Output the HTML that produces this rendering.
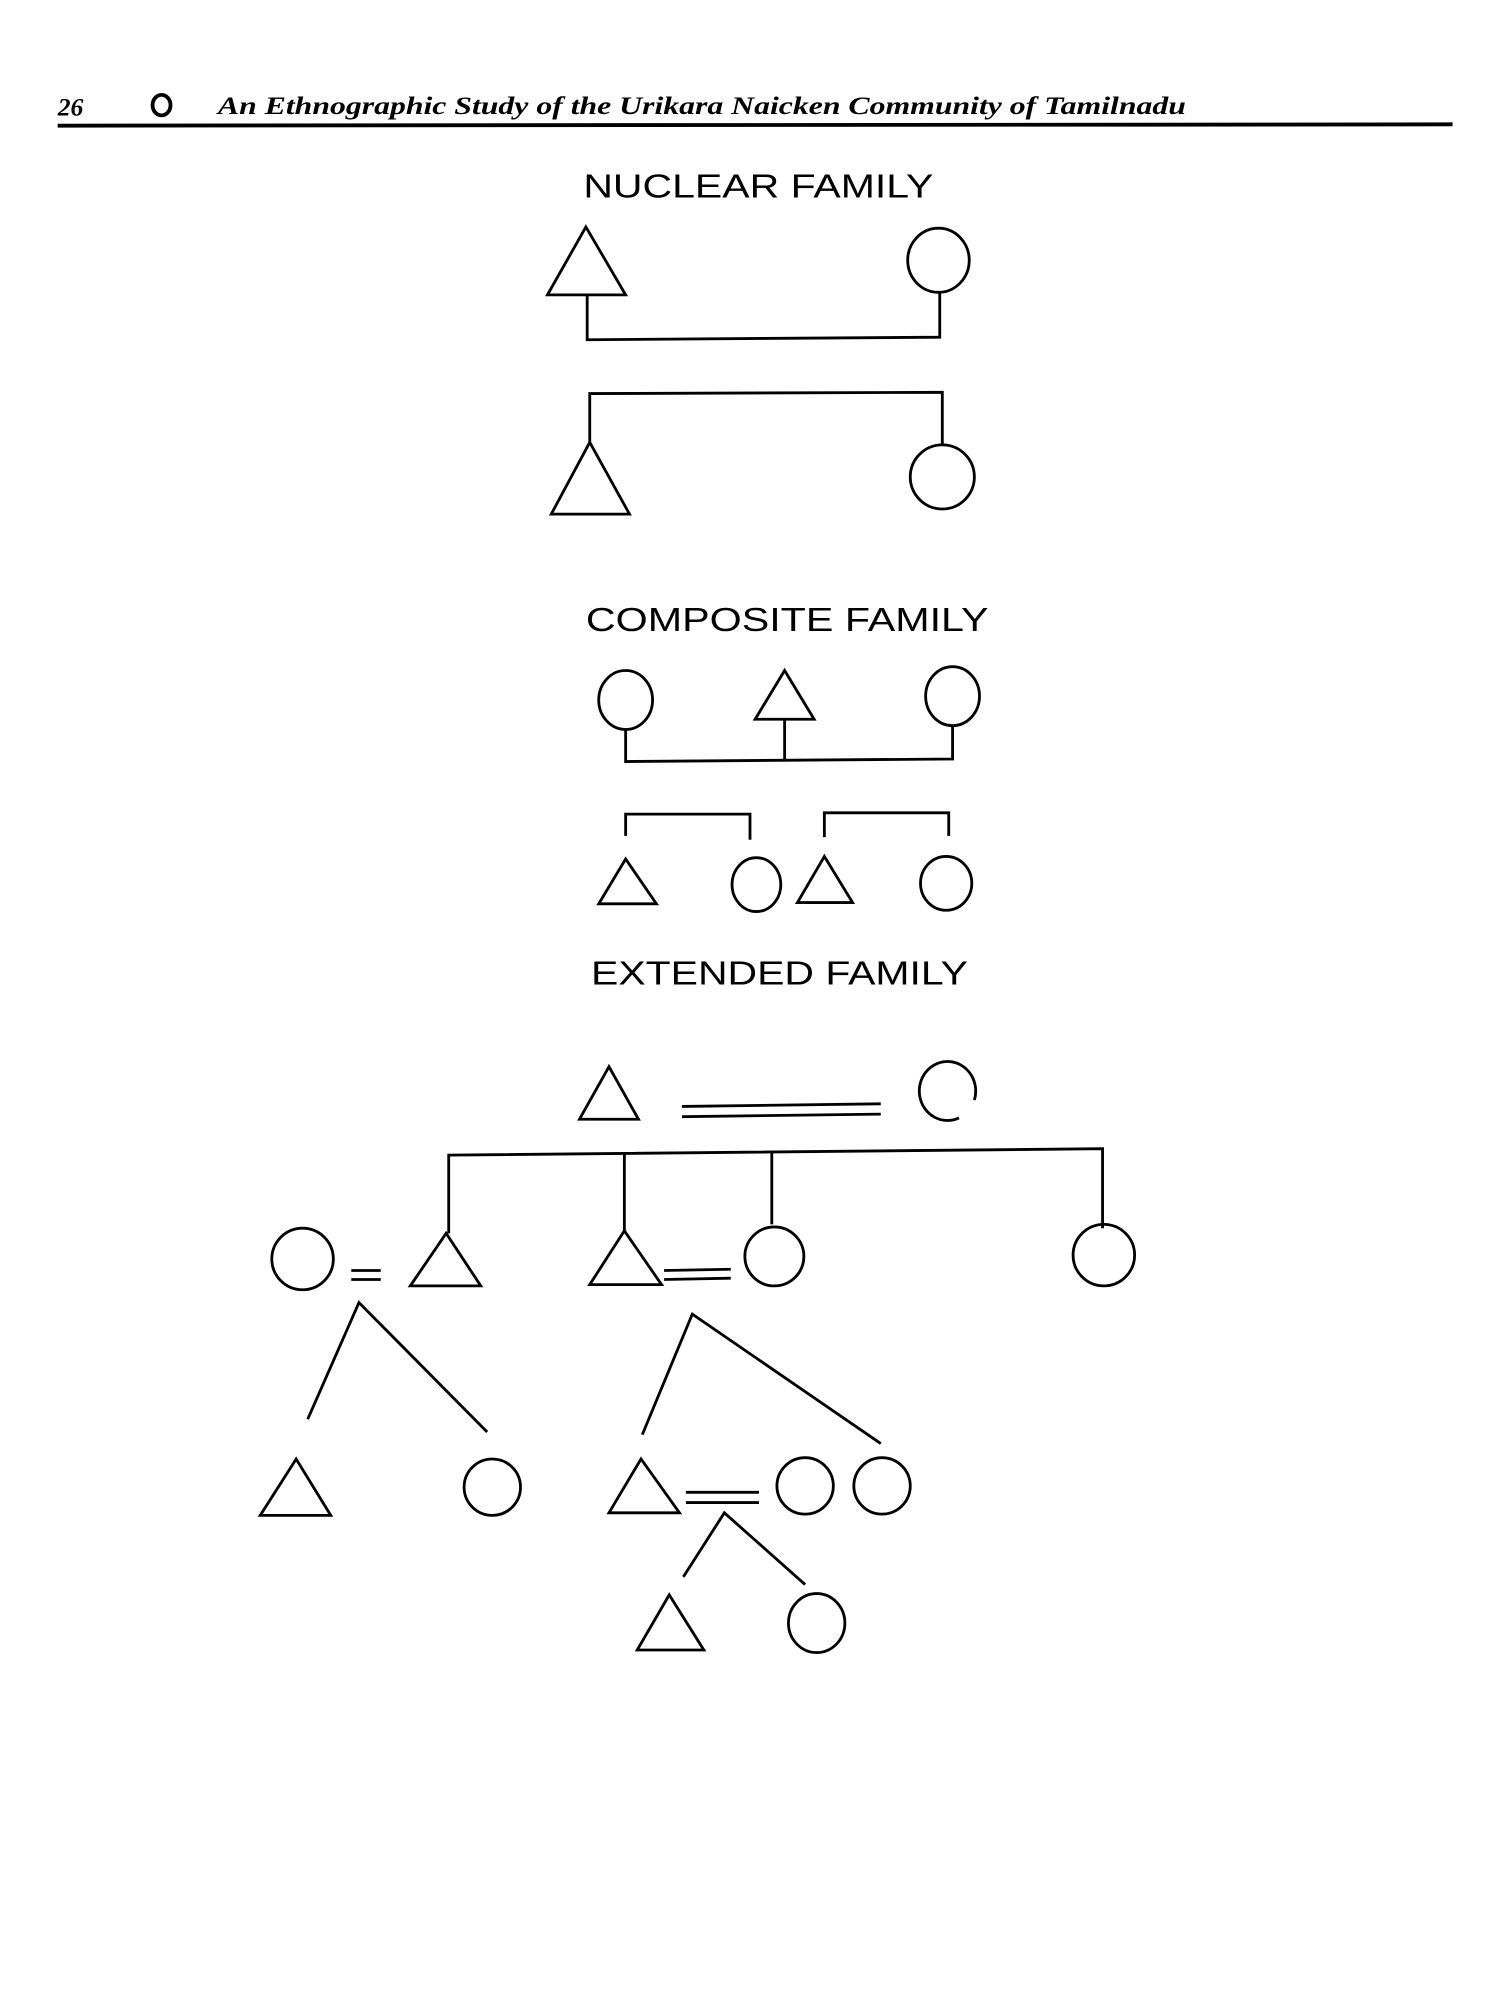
<!DOCTYPE html>
<html><head><meta charset="utf-8"><style>
html,body{margin:0;padding:0;background:#fff;width:1500px;height:2000px;overflow:hidden}
svg{display:block}
</style></head><body>
<svg width="1500" height="2000" viewBox="0 0 1170 1560" xmlns="http://www.w3.org/2000/svg">
<g font-family="Liberation Serif, serif" font-style="italic" font-weight="bold" fill="#000">
<text x="45" y="90" font-size="20">26</text>
<text x="170" y="89" font-size="20" textLength="755" lengthAdjust="spacingAndGlyphs">An Ethnographic Study of the Urikara Naicken Community  of Tamilnadu</text>
</g>
<ellipse cx="126" cy="82" rx="7" ry="8" fill="none" stroke="#000" stroke-width="3"/>
<line x1="45" y1="98" x2="1133" y2="97" stroke="#000" stroke-width="3"/>
<g font-family="Liberation Sans, sans-serif" font-size="26" fill="#000">
<text x="455" y="154" textLength="273" lengthAdjust="spacingAndGlyphs">NUCLEAR FAMILY</text>
<text x="457" y="492" textLength="314" lengthAdjust="spacingAndGlyphs">COMPOSITE FAMILY</text>
<text x="461" y="768" textLength="294" lengthAdjust="spacingAndGlyphs">EXTENDED FAMILY</text>
</g>
<g fill="none" stroke="#000" stroke-width="2.2">
<!-- nuclear 1 -->
<polygon points="457,177 427,230 488,230"/>
<ellipse cx="732" cy="203" rx="24" ry="25"/>
<polyline points="458,230 458,265 733,263 733,228"/>
<!-- nuclear 2 -->
<polyline points="460,345 460,307 735,306 735,347"/>
<polygon points="460,345 430,401 491,401"/>
<ellipse cx="735" cy="372" rx="25" ry="25"/>
<!-- composite -->
<ellipse cx="488" cy="546" rx="21" ry="23"/>
<polygon points="612,523 589,561 635,561"/>
<ellipse cx="743" cy="543" rx="21" ry="23"/>
<polyline points="488,569 488,594 743,592 743,566"/>
<line x1="612" y1="561" x2="612" y2="593"/>
<polyline points="488,652 488,635 585,635 585,655"/>
<polyline points="643,653 643,634 740,634 740,652"/>
<polygon points="488,670 467,705 512,705"/>
<ellipse cx="590" cy="690" rx="19" ry="21"/>
<polygon points="643,668 622,704 665,704"/>
<ellipse cx="738" cy="689" rx="20" ry="21"/>
<!-- extended -->
<polygon points="475,832 452,873 498,873"/>
<line x1="532" y1="863" x2="687" y2="861"/>
<line x1="532" y1="871" x2="687" y2="869"/>
<path d="M760,858 A22,23 0 1 0 748,872" />
<polyline points="350,962 350,901 860,896 860,958"/>
<line x1="487" y1="900" x2="487" y2="960"/>
<line x1="602" y1="899" x2="602" y2="955"/>
<ellipse cx="236" cy="982" rx="24" ry="24"/>
<line x1="274" y1="991" x2="297" y2="991"/>
<line x1="274" y1="998" x2="297" y2="998"/>
<polygon points="348,962 320,1003 375,1003"/>
<polygon points="487,960 460,1002 516,1002"/>
<line x1="518" y1="991" x2="570" y2="990"/>
<line x1="518" y1="998" x2="570" y2="997"/>
<ellipse cx="604" cy="980" rx="23" ry="23"/>
<ellipse cx="861" cy="979" rx="24" ry="24"/>
<polyline points="240,1107 280,1016 380,1117"/>
<polygon points="231,1138 203,1182 258,1182"/>
<ellipse cx="384" cy="1160" rx="22" ry="22"/>
<polyline points="501,1119 540,1025 687,1126"/>
<polygon points="500,1138 475,1180 530,1180"/>
<line x1="535" y1="1164" x2="592" y2="1164"/>
<line x1="535" y1="1172" x2="592" y2="1172"/>
<ellipse cx="628" cy="1159" rx="22" ry="22"/>
<ellipse cx="688" cy="1159" rx="22" ry="22"/>
<polyline points="533,1230 565,1180 628,1236"/>
<polygon points="522,1244 497,1287 549,1287"/>
<ellipse cx="637" cy="1266" rx="22" ry="23"/>
</g>
</svg>
</body></html>
